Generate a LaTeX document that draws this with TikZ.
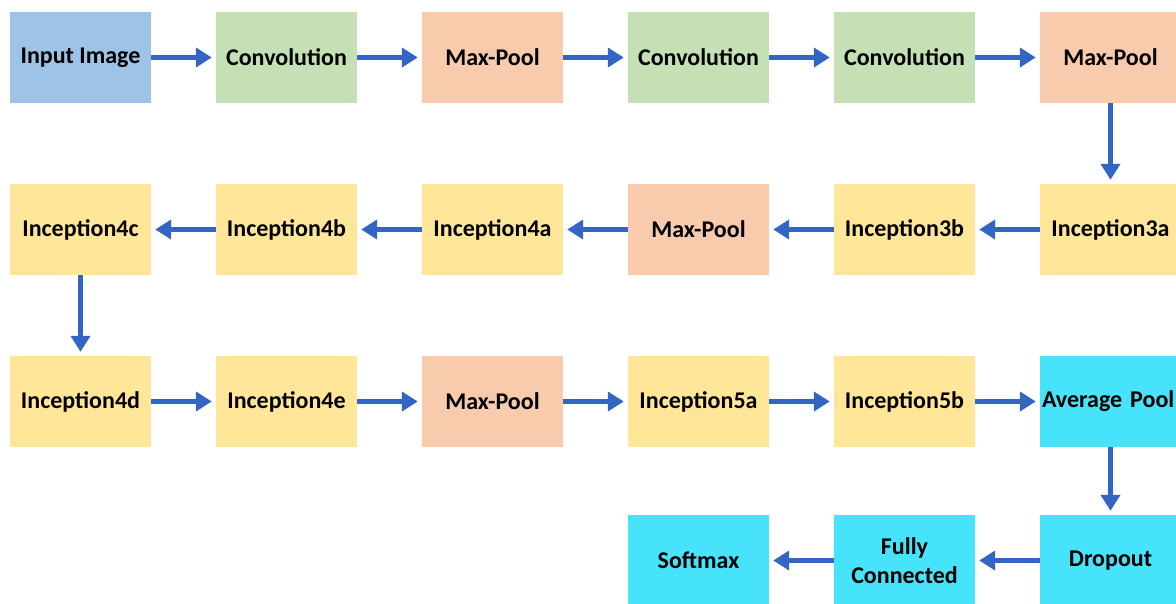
\documentclass[tikz,border=0pt]{standalone}
\usepackage{fontspec}
\setmainfont{Carlito}
\usetikzlibrary{arrows.meta}
\definecolor{cblue}{HTML}{9DC3E6}
\definecolor{cgreen}{HTML}{C5E0B4}
\definecolor{corange}{HTML}{F8CBAD}
\definecolor{cyellow}{HTML}{FFE699}
\definecolor{ccyan}{HTML}{47E3FB}
\definecolor{carrow}{HTML}{3366C4}
\begin{document}
\begin{tikzpicture}[x=1pt,y=-1pt,
  blk/.style={minimum width=141pt,minimum height=91pt,inner sep=0pt,align=center,
    font=\fontsize{24}{28.5}\selectfont\bfseries,text=black},
  inblk/.style={blk,fill=cblue},
  conv/.style={blk,fill=cgreen},
  pool/.style={blk,fill=corange},
  incep/.style={blk,fill=cyellow},
  head/.style={blk,fill=ccyan},
  flow/.style={draw=carrow,line width=5pt,shorten >=4pt,
    -{Triangle[length=16pt,width=19pt]}}]
\useasboundingbox (0,0) rectangle (1176,603);
\clip (0,0) rectangle (1176,603);
% row 1
\node[inblk] (in) at (80.5,57.5) {Input Image};
\node[conv] (c1) at (286.5,57.5) {Convolution};
\node[pool] (p1) at (492.5,57.5) {Max-Pool};
\node[conv] (c2) at (698.5,57.5) {Convolution};
\node[conv] (c3) at (904.5,57.5) {Convolution};
\node[pool] (p2) at (1110.5,57.5) {Max-Pool};
% row 2
\node[incep] (i3a) at (1110.5,229.5) {Inception3a};
\node[incep] (i3b) at (904.5,229.5) {Inception3b};
\node[pool] (p3) at (698.5,229.5) {Max-Pool};
\node[incep] (i4a) at (492.5,229.5) {Inception4a};
\node[incep] (i4b) at (286.5,229.5) {Inception4b};
\node[incep] (i4c) at (80.5,229.5) {Inception4c};
% row 3
\node[incep] (i4d) at (80.5,401.5) {Inception4d};
\node[incep] (i4e) at (286.5,401.5) {Inception4e};
\node[pool] (p4) at (492.5,401.5) {Max-Pool};
\node[incep] (i5a) at (698.5,401.5) {Inception5a};
\node[incep] (i5b) at (904.5,401.5) {Inception5b};
\node[head,text width=137pt,align=left] (avg) at (1110.5,401.5) {\mbox{Average Pool}};
% row 4
\node[head] (drop) at (1110.5,560.5) {Dropout};
\node[head] (fc) at (904.5,560.5) {Fully\\Connected};
\node[head] (soft) at (698.5,560.5) {Softmax};
% arrows
\draw[flow] (in) -- (c1);
\draw[flow] (c1) -- (p1);
\draw[flow] (p1) -- (c2);
\draw[flow] (c2) -- (c3);
\draw[flow] (c3) -- (p2);
\draw[flow] (p2) -- (i3a);
\draw[flow] (i3a) -- (i3b);
\draw[flow] (i3b) -- (p3);
\draw[flow] (p3) -- (i4a);
\draw[flow] (i4a) -- (i4b);
\draw[flow] (i4b) -- (i4c);
\draw[flow] (i4c) -- (i4d);
\draw[flow] (i4d) -- (i4e);
\draw[flow] (i4e) -- (p4);
\draw[flow] (p4) -- (i5a);
\draw[flow] (i5a) -- (i5b);
\draw[flow] (i5b) -- (avg);
\draw[flow] (avg) -- (drop);
\draw[flow] (drop) -- (fc);
\draw[flow] (fc) -- (soft);
\end{tikzpicture}
\end{document}
